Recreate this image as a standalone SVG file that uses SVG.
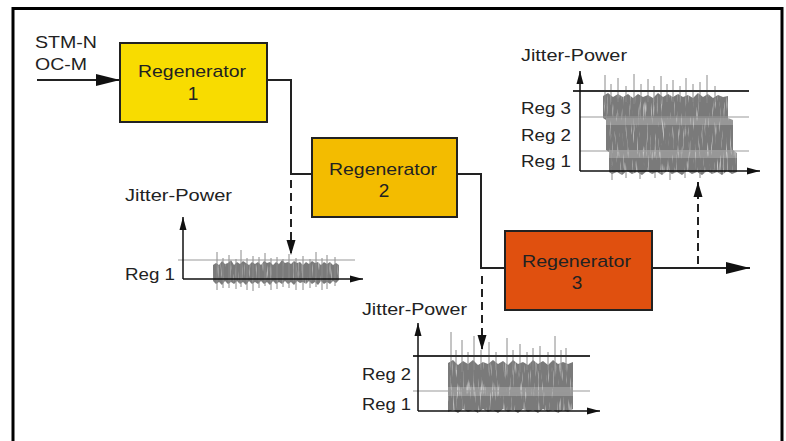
<svg xmlns="http://www.w3.org/2000/svg" width="786" height="441" viewBox="0 0 786 441">
<style>
.t{font-family:"Liberation Sans",Arial,Helvetica,sans-serif;font-size:17px;fill:#222}
.d{font-size:19px;text-anchor:middle}
.box{stroke:#222;stroke-width:2}
.ln{stroke:#222;stroke-width:2;fill:none}
.dash{stroke:#222;stroke-width:2;stroke-dasharray:8 5;fill:none}
.ax{stroke:#111;stroke-width:1.5;fill:none}
.thick{stroke:#333;stroke-width:2}
.thin{stroke:#999;stroke-width:1}
.nz{fill:#808080;filter:url(#nf)}
.sp{stroke:#8a8a8a;stroke-width:1;fill:none}
.lt{fill:#fff;opacity:0.22}
</style>
<defs>
<filter id="nf" x="-5%" y="-20%" width="110%" height="140%" color-interpolation-filters="sRGB">
<feTurbulence type="fractalNoise" baseFrequency="0.6 0.05" numOctaves="2" seed="7" result="t"/>
<feColorMatrix in="t" type="matrix" values="0 0 0 0 0.48 0 0 0 0 0.48 0 0 0 0 0.48 2 0 0 0 0.15" result="g"/>
<feComposite in="g" in2="SourceAlpha" operator="in" result="c"/>
<feGaussianBlur in="c" stdDeviation="0.4"/>
</filter>
<marker id="ab" markerUnits="userSpaceOnUse" markerWidth="26" markerHeight="14" refX="24" refY="7" orient="auto"><path d="M0,1 L24,7 L0,13 Z" fill="#111"/></marker>
<marker id="as" markerUnits="userSpaceOnUse" markerWidth="14" markerHeight="8" refX="13" refY="4" orient="auto"><path d="M0,0.5 L13,4 L0,7.5 Z" fill="#111"/></marker>
<marker id="ad" markerUnits="userSpaceOnUse" markerWidth="16" markerHeight="10" refX="15" refY="5" orient="auto"><path d="M0,0.5 L15,5 L0,9.5 Z" fill="#111"/></marker>
</defs>

<g id="frame">
<path d="M13,441 V8.5 H782 V441" fill="none" stroke="#000" stroke-width="3"/>
</g>

<g id="connectors">
<path class="ln" d="M37,80 H120" marker-end="url(#ab)"/>
<path class="ln" d="M267,80 H291 V174 H312"/>
<path class="ln" d="M457,174 H481 V268 H505"/>
<path class="ln" d="M652,268 H750" marker-end="url(#ab)"/>
<path class="dash" d="M291,180 V255" marker-end="url(#ad)"/>
<path class="dash" d="M482,276 V350" marker-end="url(#ad)"/>
<path class="dash" d="M698,264 V182" marker-end="url(#ad)"/>
</g>

<g id="input-label">
<text class="t" x="35" y="48" textLength="62" lengthAdjust="spacingAndGlyphs">STM-N</text>
<text class="t" x="35" y="70" textLength="52" lengthAdjust="spacingAndGlyphs">OC-M</text>
</g>

<g id="reg1">
<rect class="box" x="120" y="43" width="147" height="79" fill="#f8dc00"/>
<text class="t" x="138" y="77" textLength="108" lengthAdjust="spacingAndGlyphs">Regenerator</text>
<text class="t d" x="193" y="100">1</text>
</g>

<g id="reg2">
<rect class="box" x="312" y="138" width="145" height="79" fill="#f3bc00"/>
<text class="t" x="329" y="175" textLength="108" lengthAdjust="spacingAndGlyphs">Regenerator</text>
<text class="t d" x="384" y="197">2</text>
</g>

<g id="reg3">
<rect class="box" x="505" y="231" width="147" height="79" fill="#e0500f"/>
<text class="t" x="522" y="267" textLength="109" lengthAdjust="spacingAndGlyphs">Regenerator</text>
<text class="t d" x="577" y="289">3</text>
</g>

<g id="chart1">
<text class="t" x="125" y="201" textLength="107" lengthAdjust="spacingAndGlyphs">Jitter-Power</text>
<text class="t" x="125" y="280" textLength="50" lengthAdjust="spacingAndGlyphs">Reg 1</text>
<polygon class="nz" points="213,265 216,263 219,265 222,261 225,264 228,263 231,260 234,265 237,262 240,264 243,261 246,263 249,265 252,262 255,264 258,262 261,265 264,261 267,263 270,262 273,265 276,262 279,264 282,260 285,263 288,262 291,264 294,261 297,263 300,262 303,265 306,262 309,264 312,261 315,263 318,262 321,265 324,262 327,264 330,262 333,265 336,263 339,265 339,280 336,283 333,281 330,284 327,282 324,284 321,281 318,285 315,282 312,284 309,281 306,284 303,282 300,283 297,281 294,285 291,282 288,284 285,281 282,284 279,282 276,284 273,281 270,285 267,282 264,284 261,281 258,284 255,282 252,284 249,281 246,285 243,282 240,284 237,281 234,284 231,282 228,284 225,281 222,285 219,282 216,284 213,281"/>
<path class="sp" d="M217,252V290 M223,258V288 M229,255V288 M236,259V289 M241,250V287 M247,258V290 M253,256V291 M259,257V288 M265,253V286 M271,258V290 M277,257V289 M283,259V287 M289,254V288 M296,258V290 M303,256V290 M310,259V288 M316,252V287 M322,258V290 M327,255V289 M335,257V286"/>
<line class="thin" x1="178" y1="260" x2="355" y2="260"/>
<path class="ax" d="M183,279 V217" marker-end="url(#as)"/>
<path class="ax" d="M183,279 H363" marker-end="url(#as)"/>
</g>

<g id="chart2">
<text class="t" x="362" y="315" textLength="105" lengthAdjust="spacingAndGlyphs">Jitter-Power</text>
<text class="t" x="362" y="380" textLength="49" lengthAdjust="spacingAndGlyphs">Reg 2</text>
<text class="t" x="362" y="410" textLength="49" lengthAdjust="spacingAndGlyphs">Reg 1</text>
<polygon class="nz" points="448,363 453,360 458,365 463,361 468,364 473,360 478,365 483,362 488,364 493,360 498,364 503,361 508,365 513,360 518,364 523,362 528,365 533,360 538,364 543,361 548,365 553,360 558,364 563,362 568,364 573,362 573,409 568,412 563,410 558,413 553,410 548,412 543,409 538,413 533,410 528,412 523,409 518,413 513,410 508,412 503,409 498,413 493,410 488,412 483,409 478,413 473,410 468,412 463,409 458,413 453,410 448,412"/>
<rect class="lt" x="448" y="387" width="125" height="9"/>
<path class="sp" d="M451,332V370 M456,350V370 M462,340V372 M468,352V370 M474,336V370 M481,350V370 M489,342V372 M496,352V370 M507,338V370 M513,350V370 M520,344V372 M527,352V370 M533,348V370 M540,346V370 M548,352V370 M555,336V370 M561,350V370 M566,348V370"/>
<line class="thick" x1="413" y1="356" x2="590" y2="356"/>
<line class="thin" x1="413" y1="391" x2="590" y2="391"/>
<path class="ax" d="M418,411 V323" marker-end="url(#as)"/>
<path class="ax" d="M418,411 H600" marker-end="url(#as)"/>
</g>

<g id="chart3">
<text class="t" x="521" y="61" textLength="106" lengthAdjust="spacingAndGlyphs">Jitter-Power</text>
<text class="t" x="521" y="114" textLength="50" lengthAdjust="spacingAndGlyphs">Reg 3</text>
<text class="t" x="521" y="141" textLength="50" lengthAdjust="spacingAndGlyphs">Reg 2</text>
<text class="t" x="521" y="167" textLength="50" lengthAdjust="spacingAndGlyphs">Reg 1</text>
<polygon class="nz" points="603,96 608,93 613,97 618,94 623,97 628,94 633,98 638,94 643,97 648,95 653,98 658,93 663,97 668,94 673,97 678,94 683,97 688,95 693,98 698,93 703,97 708,94 713,98 718,95 723,97 728,96 728,118 733,120 733,150 737,153 737,170 737,172 732,174 727,171 722,175 717,172 712,174 707,171 702,175 697,172 692,174 687,171 682,175 677,172 672,174 667,171 662,175 657,172 652,174 647,171 642,175 637,172 632,174 627,171 622,175 617,172 612,174 609,172 609,152 606,150 606,120 603,118"/>
<rect class="lt" x="606" y="118" width="127" height="7"/>
<rect class="lt" x="609" y="150" width="128" height="8"/>
<path class="sp" d="M605,75V105 M611,84V102 M618,78V102 M626,86V102 M634,74V104 M641,84V102 M648,79V102 M654,86V102 M661,76V104 M667,84V102 M673,80V102 M680,86V102 M686,78V104 M693,84V102 M700,82V102 M707,75V103 M715,86V102 M612,172V180 M626,172V178 M640,172V179 M655,172V178 M670,172V180 M685,172V178 M700,172V178"/>
<line class="thick" x1="573" y1="91" x2="749" y2="91"/>
<line class="thin" x1="580" y1="117" x2="749" y2="117"/>
<line class="thin" x1="580" y1="151" x2="749" y2="151"/>
<path class="ax" d="M580,171 V71" marker-end="url(#as)"/>
<path class="ax" d="M580,171 H760" marker-end="url(#as)"/>
</g>
</svg>
